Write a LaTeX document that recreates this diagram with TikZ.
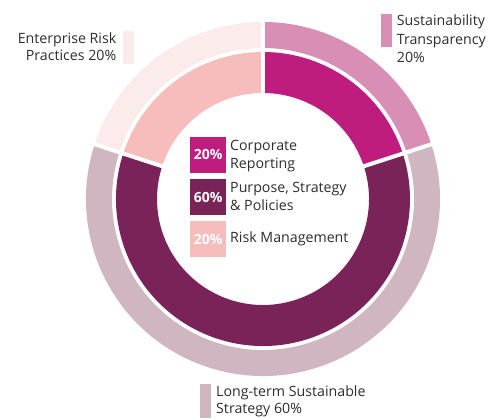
\documentclass[tikz,border=0pt]{standalone}
\usepackage{fontspec}
\setmainfont{Open Sans}
\definecolor{trans}{RGB}{217,143,181}
\definecolor{corp}{RGB}{191,29,126}
\definecolor{longt}{RGB}{207,182,193}
\definecolor{purp}{RGB}{122,35,88}
\definecolor{ent}{RGB}{251,235,234}
\definecolor{risk}{RGB}{247,189,188}
\definecolor{ink}{RGB}{45,45,45}
\begin{document}
\begin{tikzpicture}[x=1pt, y=1pt,
  lbl/.style={font=\fontsize{14.2}{17}\selectfont, text=ink, inner sep=0pt},
  pct/.style={font=\fontsize{14}{15}\selectfont\bfseries, text=white, inner sep=0pt,
              minimum width=36pt, minimum height=36pt, anchor=north west},
  gap/.style={white, line width=4pt}]
\useasboundingbox (0,0) rectangle (495,418);
\coordinate (c) at (263,219);
% outer ring
\fill[trans, shift={(c)}] (18:177) arc (18:90:177) -- (90:151) arc (90:18:151) -- cycle;
\fill[longt, shift={(c)}] (-198:177) arc (-198:18:177) -- (18:151) arc (18:-198:151) -- cycle;
\fill[ent, shift={(c)}] (90:177) arc (90:162:177) -- (162:151) arc (162:90:151) -- cycle;
% inner ring
\fill[corp, shift={(c)}] (18:147) arc (18:90:147) -- (90:106) arc (90:18:106) -- cycle;
\fill[purp, shift={(c)}] (-198:147) arc (-198:18:147) -- (18:106) arc (18:-198:106) -- cycle;
\fill[risk, shift={(c)}] (90:147) arc (90:162:147) -- (162:106) arc (162:90:106) -- cycle;
% white cuts
\draw[gap, shift={(c)}] (90:100) -- (90:182);
\draw[gap, shift={(c)}] (18:100) -- (18:182);
\draw[gap, shift={(c)}] (162:100) -- (162:182);
% outer legend
\fill[ent] (123,354.3) rectangle (134,387);
\node[lbl, anchor=base east] (ent1) at (116.5,374.7) {Enterprise Risk};
\node[lbl, anchor=base east] (ent2) at (116.5,357) {Practices 20\%};
\fill[trans] (381,371.3) rectangle (391.7,404);
\node[lbl, anchor=base west] (trans1) at (396.7,392) {Sustainability};
\node[lbl, anchor=base west] (trans2) at (396.7,373.7) {Transparency};
\node[lbl, anchor=base west] (trans3) at (396.7,355.7) {20\%};
\fill[longt] (200,0) rectangle (211,34);
\node[lbl, anchor=base west] (longt1) at (216,22) {Long-term Sustainable};
\node[lbl, anchor=base west] (longt2) at (216,4.7) {Strategy 60\%};
% centre legend
\node[pct, fill=corp] (corpbox) at (190,281.3) {20\%};
\node[lbl, anchor=base west] (corp1) at (230,267.3) {Corporate};
\node[lbl, anchor=base west] (corp2) at (230,249.7) {Reporting};
\node[pct, fill=purp] (purpbox) at (190,239) {60\%};
\node[lbl, anchor=base west] (purp1) at (230,225.3) {Purpose, Strategy};
\node[lbl, anchor=base west] (purp2) at (230,207.3) {\& Policies};
\node[pct, fill=risk] (riskbox) at (190,197) {20\%};
\node[lbl, anchor=base west] (risk1) at (230,175.3) {Risk Management};
\end{tikzpicture}
\end{document}
